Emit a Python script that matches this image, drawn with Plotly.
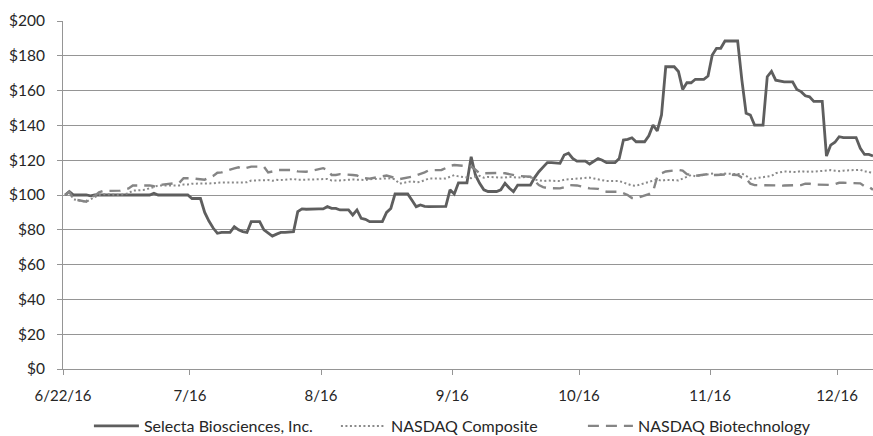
import pandas as pd
import plotly.graph_objects as go

# Calendar days covered by the chart (non-trading days carry the last close)
calendar_dates = pd.date_range("2016-06-22", "2016-12-30", freq="D").strftime("%Y-%m-%d").tolist()

# Trading days, grouped by month (2016)
trading_days = {
    "2016-06": [22, 23, 24, 27, 28, 29, 30],
    "2016-07": [1, 5, 6, 7, 8, 11, 12, 13, 14, 15, 18, 19, 20, 21, 22, 25, 26, 27, 28, 29],
    "2016-08": [1, 2, 3, 4, 5, 8, 9, 10, 11, 12, 15, 16, 17, 18, 19, 22, 23, 24, 25, 26, 29, 30, 31],
    "2016-09": [1, 2, 6, 7, 8, 9, 12, 13, 14, 15, 16, 19, 20, 21, 22, 23, 26, 27, 28, 29, 30],
    "2016-10": [3, 4, 5, 6, 7, 10, 11, 12, 13, 14, 17, 18, 19, 20, 21, 24, 25, 26, 27, 28, 31],
    "2016-11": [1, 2, 3, 4, 7, 8, 9, 10, 11, 14, 15, 16, 17, 18, 21, 22, 23, 25, 28, 29, 30],
    "2016-12": [1, 2, 5, 6, 7, 8, 9, 12, 13, 14, 15, 16, 19, 20, 21, 22, 23, 27, 28, 29, 30],
}
trading_dates = [f"{m}-{d:02d}" for m, days in trading_days.items() for d in days]

# Value of a $100 investment made on 6/22/16 — Selecta, one value per calendar day
selecta = [
    # June 22-30
    100, 102, 100, 100, 100, 100, 99.5, 100, 100,
    # July
    100, 100, 100, 100, 100, 100, 100, 100, 100, 100,
    100, 100, 101, 100, 100, 100, 100, 100, 100, 100,
    100, 98, 98, 98, 90, 85, 81, 78, 78.5, 78.5, 78.5,
    # August
    81.8, 80, 79, 78.5, 84.7, 84.7, 84.7, 80, 78, 76.4,
    77.5, 78.5, 78.5, 78.5, 78.9, 90.4, 92, 91.8, 92, 92,
    92, 92, 93.3, 92.3, 92.3, 91.4, 91.4, 91.4, 88.5, 91.4, 86.6,
    # September
    86, 84.7, 84.7, 84.7, 84.7, 90, 92.3, 100.6, 100.6, 100.6,
    100.6, 97, 93.3, 94.3, 93.5, 93.3, 93.3, 93.3, 93.3, 93.5,
    103, 100.6, 107, 107, 107, 122, 111.5, 106.7, 103, 102,
    # October
    102, 102, 103, 106.7, 104, 101.9, 105.7, 105.7, 105.7, 105.7,
    110, 113.4, 116, 118.6, 118.6, 118.6, 118.2, 123, 124, 121,
    119.5, 119.5, 119.5, 117.8, 119.2, 121, 120, 118.6, 118.6, 118.6, 121,
    # November
    131.6, 132, 132.9, 130.6, 130.6, 130.6, 134, 140.2, 136.8, 146,
    173.7, 173.7, 173.7, 171, 160.7, 164.5, 164.5, 166.5, 166.5, 166.5,
    168.4, 180.5, 184.3, 184.3, 188.5, 188.5, 188.5, 188.5, 166, 147,
    # December
    146, 140.2, 140.2, 140.2, 168, 171, 166, 165.5, 165, 165,
    165, 160.7, 159.4, 157, 156.4, 153.8, 153.8, 153.8, 122.4, 128.7,
    130.3, 133.5, 133, 133, 133, 133, 126.8, 123.3, 123.3, 122.5,
]

# Index values, one per trading day
nasdaq_composite = [
    100, 101.5, 97.5, 96, 97.5, 99, 100,
    100.5, 100, 100.5, 101, 102.5, 103, 104, 104.5, 105.5, 105.5, 105.7, 105.5, 106, 106, 106.5, 106.5,
    106.5, 106.7, 107, 107.2,
    107.2, 107, 107.2, 107.3, 108.3, 108.5, 108.6, 108.2, 108.7, 108.6, 109.2, 108.7, 108.8, 109, 108.9,
    109, 109.2, 108.4, 108.6, 108.4, 108.9, 108.7, 108.5,
    108.6, 109.1, 109.6, 109.6, 109, 106.5, 107.9, 107.3, 107.6, 108.7, 109.5, 109.4, 109.5, 110.5,
    111.4, 110.7, 109.7, 110.6, 111, 109.9, 110.4,
    110, 110, 110.5, 110.3, 110, 110.5, 108.8, 108.5, 108, 108.3, 108, 108.8, 109, 109, 109.2, 110,
    109.5, 109, 108.4, 108, 108,
    107.3, 106.3, 105.5, 105.3, 107.5, 107.9, 109, 108.1, 108.7, 108.4, 109.5, 110.5, 111.5, 110.8,
    112, 112.3, 111.5, 112.3, 112, 112.3, 111,
    109.3, 109.5, 110.5, 111, 112.5, 113, 113.5, 113.2, 113.8, 113.3, 113.6, 113.4, 113.8, 114.3,
    113.9, 113.7, 114, 114.5, 113.5, 113.4, 112.2,
]

nasdaq_biotech = [
    100, 101.9, 97.5, 96.2, 99, 99.5, 101.5,
    102.3, 102.5, 103, 103.8, 105.5, 105.7, 105.5, 105, 104.8, 106, 107, 107, 109.6, 109.6, 109.6,
    108.8, 110, 111, 112.8, 113,
    115.3, 115.9, 115, 115.5, 116.3, 116.3, 113, 113.5, 114.4, 114.4, 114.4, 113.6, 113.4, 113.4,
    113.8, 115.4, 114.5, 111.5, 111.5, 112, 111.5, 111.2, 110,
    109.5, 109.4, 111.2, 110.5, 109.5, 109.1, 110.5, 111.2, 112, 113, 114.2, 114.4, 115.5, 116.8,
    117.2, 117, 116.4, 114.5, 112.5, 112.5, 112.6,
    112.7, 112.5, 112, 111.5, 111, 110.5, 108, 105.7, 104.5, 104, 103.8, 104.5, 105.7, 105.7, 105.5,
    103.8, 103.8, 103.5, 102.5, 101.9, 101.9,
    101, 100, 98.3, 98.1, 100.5, 102, 110.5, 112.5, 113.5, 114.4, 114, 112, 111.5, 111, 112, 111.5,
    111.5, 111.8, 111.5, 110, 109.6,
    106.5, 105.7, 105.7, 105.5, 105.5, 105, 105.5, 105.7, 105.7, 106.5, 106.5, 106, 105.7, 105.8,
    106.2, 107, 107, 106.7, 105, 104.8, 103,
]

x_tick_dates = ["2016-06-22", "2016-07-22", "2016-08-22", "2016-09-22",
                "2016-10-22", "2016-11-22", "2016-12-22"]
x_tick_labels = ["6/22/16", "7/16", "8/16", "9/16", "10/16", "11/16", "12/16"]
y_tick_values = list(range(0, 201, 20))
y_tick_labels = [f"${v}" for v in y_tick_values]

FONT = "Lato"
TEXT = "#262626"
GRID = "#959595"
DAY_MS = 86400000  # each value sits in the middle of its day

fig = go.Figure()
fig.add_trace(go.Scatter(
    x=calendar_dates, y=selecta, name="Selecta Biosciences, Inc.", mode="lines",
    xperiod=DAY_MS, xperiodalignment="middle",
    line=dict(color="#5e5e5e", width=2.8),
))
fig.add_trace(go.Scatter(
    x=trading_dates, y=nasdaq_composite, name="NASDAQ Composite", mode="lines",
    xperiod=DAY_MS, xperiodalignment="middle",
    line=dict(color="#8a8a8a", width=2, dash="2px,2.5px"),
))
fig.add_trace(go.Scatter(
    x=trading_dates, y=nasdaq_biotech, name="NASDAQ Biotechnology", mode="lines",
    xperiod=DAY_MS, xperiodalignment="middle",
    line=dict(color="#858585", width=2.4, dash="11px,7px"),
))

fig.update_layout(
    width=873, height=436,
    margin=dict(l=63, r=0, t=21, b=67, autoexpand=False),
    paper_bgcolor="white", plot_bgcolor="white",
    font=dict(family=FONT, size=15, color=TEXT),
    showlegend=True,
    legend=dict(
        orientation="h", x=0.032, xanchor="left", y=-0.115, yanchor="top",
        font=dict(family=FONT, size=16, color=TEXT),
        itemwidth=45, entrywidthmode="pixels", entrywidth=187,
        bgcolor="rgba(0,0,0,0)",
    ),
)
fig.update_xaxes(
    type="date",
    range=["2016-06-22", "2016-12-30 12:00"],
    tickvals=x_tick_dates, ticktext=x_tick_labels,
    showgrid=False, zeroline=False,
    showline=True, linecolor=GRID, linewidth=1,
    ticks="outside", ticklen=5, tickcolor=GRID,
    ticklabelstandoff=8,
    tickfont=dict(family=FONT, size=15, color=TEXT),
)
fig.update_yaxes(
    range=[0, 200],
    tickvals=y_tick_values, ticktext=y_tick_labels,
    showgrid=True, gridcolor=GRID, gridwidth=1,
    zeroline=False,
    showline=True, linecolor=GRID, linewidth=1,
    ticks="outside", ticklen=5, tickcolor=GRID,
    ticklabelstandoff=9,
    tickfont=dict(family=FONT, size=15.5, color=TEXT),
)

fig.write_html("out.html")
